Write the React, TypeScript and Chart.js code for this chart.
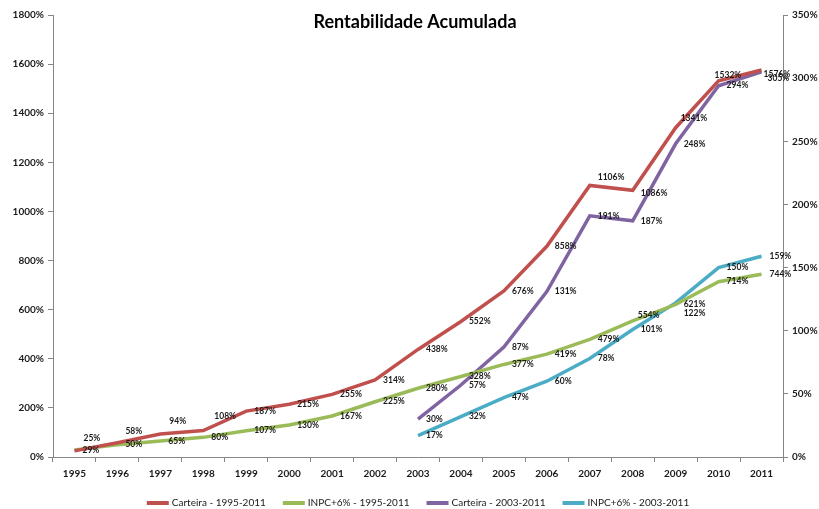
import React, { useEffect, useRef } from "react";
import { Chart, registerables } from "chart.js";

Chart.register(...registerables);

const years = ["1995","1996","1997","1998","1999","2000","2001","2002","2003","2004","2005","2006","2007","2008","2009","2010","2011"];
const carteira9511 = [25, 58, 94, 108, 187, 215, 255, 314, 438, 552, 676, 858, 1106, 1086, 1341, 1532, 1576];
const inpc9511 = [29, 50, 65, 80, 107, 130, 167, 225, 280, 328, 377, 419, 479, 554, 621, 714, 744];
const carteira0311 = [null, null, null, null, null, null, null, null, 30, 57, 87, 131, 191, 187, 248, 294, 305];
const inpc0311 = [null, null, null, null, null, null, null, null, 17, 32, 47, 60, 78, 101, 122, 150, 159];
const seriesNames = ["Carteira - 1995-2011", "INPC+6% - 1995-2011", "Carteira - 2003-2011", "INPC+6% - 2003-2011"];
const leftTicksMax = 1800;
const rightTicksMax = 350;
const titleText = "Rentabilidade Acumulada";

// label nudges (dx, dy) per dataset / point index; default is right of the point
const labelNudges: Record<number, Record<number, [number, number]>> = {
  0: { 0: [9, -13], 1: [8, -11], 2: [9, -13], 3: [11, -14], 12: [8, -8], 13: [8, 3], 14: [5, -9], 15: [-4, -6], 16: [2, 4] },
  1: { 13: [5, -6] },
  2: { 16: [6, 6] },
  3: { 14: [8, 10] },
};

const colors = ["#C0504D", "#9BBB59", "#8064A2", "#4BACC6"];
const AXIS = "#868686";
const FONT = "Lato, 'Open Sans', sans-serif";

const labelsPlugin = {
  id: "pointLabels",
  afterDatasetsDraw(chart: any) {
    const ctx = chart.ctx;
    ctx.save();
    ctx.font = `bold 8.5px ${FONT}`;
    ctx.fillStyle = "#1a1a1a";
    ctx.textAlign = "left";
    ctx.textBaseline = "middle";
    chart.data.datasets.forEach((ds: any, i: number) => {
      const meta = chart.getDatasetMeta(i);
      meta.data.forEach((el: any, j: number) => {
        const v = ds.data[j];
        if (v === null || v === undefined) return;
        const n = (labelNudges[i] && labelNudges[i][j]) || [8, 0];
        ctx.fillText(`${v}%`, el.x + n[0], el.y + n[1]);
      });
    });
    ctx.restore();
  },
};

const titleLegendPlugin = {
  id: "titleLegend",
  afterDraw(chart: any) {
    const ctx = chart.ctx;
    const ca = chart.chartArea;
    const cx = (ca.left + ca.right) / 2;
    ctx.save();
    ctx.font = `bold 18px ${FONT}`;
    ctx.fillStyle = "#000";
    ctx.textAlign = "center";
    ctx.textBaseline = "middle";
    ctx.fillText(titleText, cx - 3, 22);

    // legend
    ctx.font = `10px ${FONT}`;
    const lineLen = 22;
    const gap = 3;
    const itemGap = 17;
    const widths = chart.data.datasets.map((d: any) => lineLen + gap + ctx.measureText(d.label).width);
    const total = widths.reduce((a: number, b: number) => a + b, 0) + itemGap * (widths.length - 1);
    let x = cx - total / 2;
    const y = 503;
    ctx.textAlign = "left";
    chart.data.datasets.forEach((d: any, i: number) => {
      ctx.fillStyle = d.borderColor;
      ctx.fillRect(x, y - 2, lineLen, 4);
      ctx.fillStyle = "#1a1a1a";
      ctx.fillText(d.label, x + lineLen + gap, y);
      x += widths[i] + itemGap;
    });
    ctx.restore();
  },
};

export default function App() {
  const ref = useRef<HTMLCanvasElement>(null);
  useEffect(() => {
    if (!ref.current) return;
    const mk = (label: string, data: (number | null)[], color: string, axis: string) => ({
      label,
      data,
      borderColor: color,
      backgroundColor: color,
      borderWidth: 3.5,
      pointRadius: 0,
      tension: 0,
      yAxisID: axis,
      spanGaps: false,
      borderJoinStyle: "miter" as const,
    });
    const chart = new Chart(ref.current, {
      type: "line",
      data: {
        labels: years,
        datasets: [
          mk(seriesNames[0], carteira9511, colors[0], "y"),
          mk(seriesNames[1], inpc9511, colors[1], "y"),
          mk(seriesNames[2], carteira0311, colors[2], "y2"),
          mk(seriesNames[3], inpc0311, colors[3], "y2"),
        ],
      },
      options: {
        responsive: false,
        animation: false,
        layout: { padding: { top: 15, bottom: 27, left: 0, right: 0 } },
        plugins: { legend: { display: false }, title: { display: false }, tooltip: { enabled: false } },
        scales: {
          x: {
            type: "category",
            offset: true,
            grid: { display: true, drawOnChartArea: false, drawTicks: true, tickLength: 5, color: AXIS, offset: true },
            border: { display: true, color: AXIS, width: 1 },
            ticks: { color: "#1a1a1a", font: { family: FONT, size: 10, weight: "bold" }, padding: 6, maxRotation: 0, autoSkip: false },
            afterFit: (s: any) => { s.height = 25; },
          },
          y: {
            position: "left",
            min: 0,
            max: leftTicksMax,
            grid: { display: true, drawOnChartArea: false, drawTicks: true, tickLength: 5, color: AXIS },
            border: { display: true, color: AXIS, width: 1 },
            ticks: { stepSize: 200, color: "#1a1a1a", font: { family: FONT, size: 10, weight: "bold" }, padding: 4, callback: (v: any) => `${v}%` },
            afterFit: (s: any) => { s.width = 53; },
          },
          y2: {
            position: "right",
            min: 0,
            max: rightTicksMax,
            grid: { display: true, drawOnChartArea: false, drawTicks: true, tickLength: 5, color: AXIS },
            border: { display: true, color: AXIS, width: 1 },
            ticks: { stepSize: 50, color: "#1a1a1a", font: { family: FONT, size: 10, weight: "bold" }, padding: 4, callback: (v: any) => `${v}%` },
            afterFit: (s: any) => { s.width = 36; },
          },
        },
      },
      plugins: [labelsPlugin, titleLegendPlugin],
    });
    return () => chart.destroy();
  }, []);
  return (
    <div style={{ position: "absolute", left: 0, top: 0, width: 819, height: 509, background: "#fff" }}>
      <canvas ref={ref} width={819} height={509} />
    </div>
  );
}
